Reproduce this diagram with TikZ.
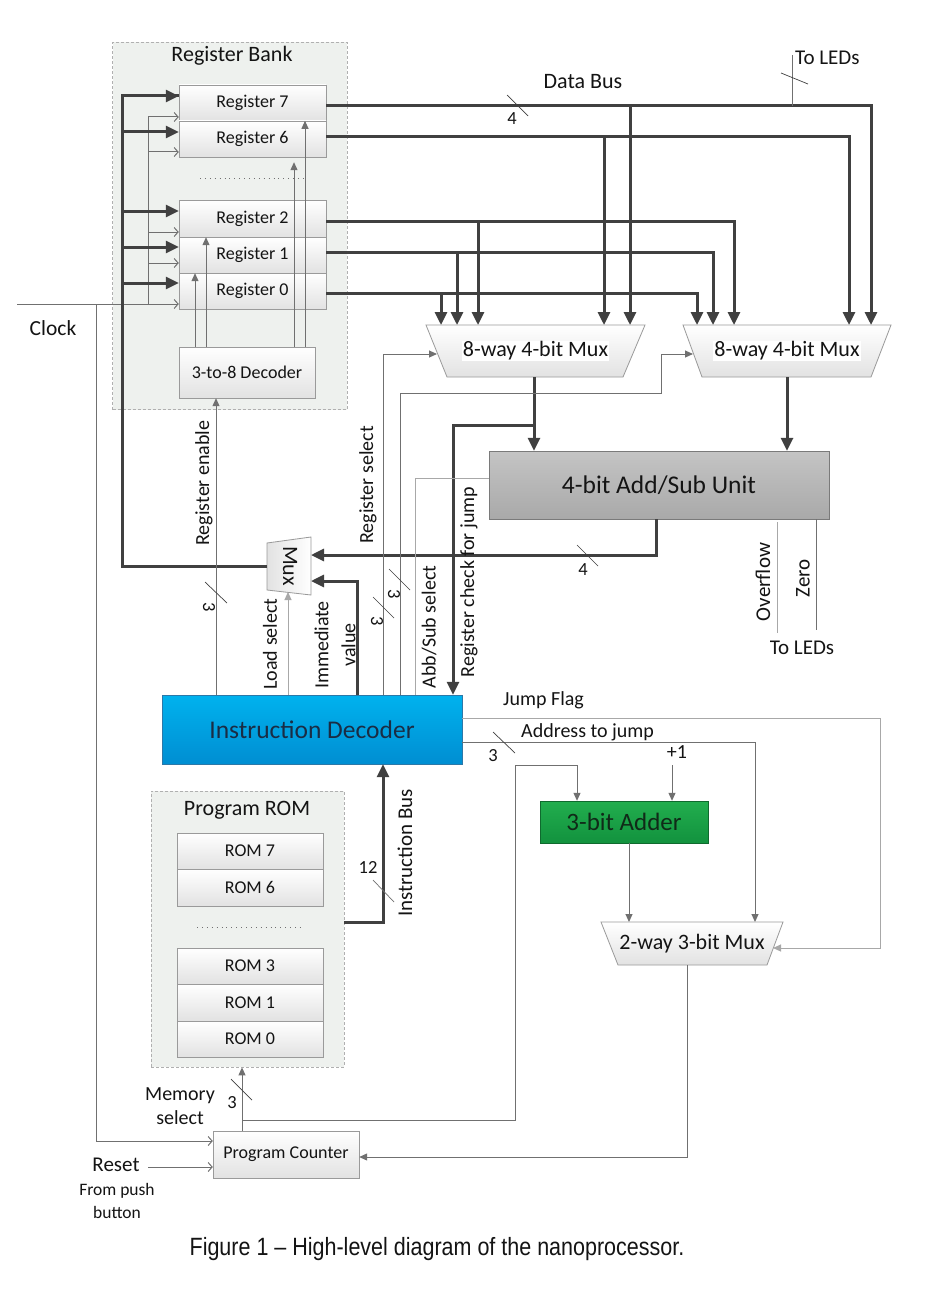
\documentclass[tikz,border=0pt]{standalone}
\usepackage{fontspec}
\setmainfont{Carlito}
\newfontfamily\capfont[FakeStretch=0.86]{Liberation Sans}
\usetikzlibrary{arrows.meta,calc}
\definecolor{txt}{HTML}{141414}
\definecolor{lineD}{HTML}{404040}
\definecolor{lineM}{HTML}{707070}
\definecolor{lineL}{HTML}{A8A8A8}
\definecolor{boxB}{HTML}{9A9A9A}
\definecolor{regG}{HTML}{E2E2E2}
\definecolor{bankF}{HTML}{EEF1EE}
\definecolor{bankB}{HTML}{B0B0B0}
\definecolor{idT}{HTML}{00B2EE}
\definecolor{idB}{HTML}{008ED2}
\definecolor{idE}{HTML}{2C78A8}
\definecolor{idTxt}{HTML}{1A2C44}
\definecolor{aluT}{HTML}{C4C4C4}
\definecolor{aluB}{HTML}{A9A9A9}
\definecolor{aluE}{HTML}{7A7A7A}
\definecolor{addT}{HTML}{22AE4E}
\definecolor{addB}{HTML}{12923E}
\definecolor{addE}{HTML}{0F6A2E}
\definecolor{addTxt}{HTML}{102A18}
\newcommand\fsz[1]{\fontsize{#1}{#1}\selectfont}
\newcommand\fszb[2]{\fontsize{#1}{#2}\selectfont}
\begin{document}
\begin{tikzpicture}[x=1pt,y=-1pt,
  every node/.style={text=txt, inner sep=0pt},
  regbox/.style={draw=boxB, top color=white, bottom color=regG, minimum width=147pt, minimum height=36pt, font=\fsz{18}},
  rombox/.style={regbox, minimum width=146pt},
  bankbox/.style={draw=bankB, dash pattern=on 3pt off 2pt, fill=bankF, line width=0.8pt},
  muxsh/.style={draw=boxB, top color=white, bottom color=regG, line width=0.8pt},
  lbl/.style={font=\fsz{20}},
  vlbl/.style={font=\fsz{20}, rotate=90},
  num/.style={font=\fsz{18.5}},
  thickln/.style={draw=lineD, line width=3pt},
  thickarr/.style={thickln, -{Triangle[length=13pt,width=12pt]}},
  thinln/.style={draw=lineM, line width=1pt},
  thinarr/.style={thinln, -{Triangle[length=8pt,width=7pt]}},
  lightln/.style={draw=lineL, line width=1pt},
  lightarr/.style={lightln, -{Triangle[length=8pt,width=7pt]}},
  openarr/.style={thinln, -{Straight Barb[length=4pt,width=9pt]}},
  slash/.style={draw=lineD, line width=0.7pt},
  dotln/.style={draw=lineM, line width=0.9pt, dash pattern=on 0.9pt off 4pt}
]
\useasboundingbox (0,0) rectangle (938,1292);
\fill[white] (0,0) rectangle (938,1292);

% ---------- Register bank ----------
\node[bankbox, minimum width=234.5pt, minimum height=367pt] (bank) at (229.75,226) {};
\node[font=\fsz{22}] (banktitle) at (232,56) {Register Bank};
\node[regbox] (r7) at (252.5,103) {Register 7};
\node[regbox] (r6) at (252.5,139) {Register 6};
\node[regbox, minimum height=37pt] (r2) at (252.5,218.5) {Register 2};
\node[regbox] (r1) at (252.5,255) {Register 1};
\node[regbox] (r0) at (252.5,291) {Register 0};
\draw[dotln] (200,178) -- (305,178);
\node[regbox, minimum width=136pt, minimum height=51pt] (dec) at (247,372.5) {3-to-8 Decoder};

% decoder to registers
\draw[thinarr] (dec.north -| 195,0) -- (r1.south -| 195,0);
\draw[thinarr] (dec.north -| 206,0) -- (r2.south -| 206,0);
\draw[thinarr, shorten >=5pt] (dec.north -| 294,0) -- (r6.south -| 294,0);
\draw[thinarr] (dec.north -| 305,0) -- (r6.north -| 305,0);

% clock
\coordinate (clkin) at (17,304);
\node[font=\fsz{21.5}] (clk) at (53,328) {Clock};
\draw[thinln] (clkin) -- (148,304) -- (148,117);
\foreach \y/\r in {117/r7,152/r6,232/r2,263/r1,304/r0}
  \draw[openarr] (148,\y) -- (\r.west |- 0,\y);

% ---------- Program ROM ----------
\node[bankbox, minimum width=193pt, minimum height=276pt] (rom) at (247.5,929) {};
\node[font=\fsz{22}] (romtitle) at (247,810) {Program ROM};
\node[rombox] (m7) at (250,851) {ROM 7};
\node[rombox, minimum height=37pt] (m6) at (250,887.5) {ROM 6};
\draw[dotln] (197,927) -- (303,927);
\node[rombox] (m3) at (250,966) {ROM 3};
\node[rombox, minimum height=37pt] (m1) at (250,1002.5) {ROM 1};
\node[rombox] (m0) at (250,1039) {ROM 0};

% ---------- Main blocks ----------
\node[draw=idE, top color=idT, bottom color=idB, minimum width=300pt, minimum height=69pt, font=\fsz{25.5}, text=idTxt] (id) at (312,729.5) {Instruction Decoder};
\node[draw=aluE, top color=aluT, bottom color=aluB, minimum width=340pt, minimum height=68pt, font=\fsz{25.5}] (alu) at (659,485) {4-bit Add/Sub Unit};
\node[draw=addE, top color=addT, bottom color=addB, minimum width=168pt, minimum height=42pt, font=\fsz{25}, text=addTxt] (add) at (624,822) {3-bit Adder};
\node[regbox, minimum width=146pt, minimum height=47pt] (pc) at (286,1154.5) {Program Counter};

% muxes
\path[muxsh] (426,325) -- (645,325) -- (623,377) -- (447,377) -- cycle;
\node[font=\fsz{22}, fill=white, inner sep=1pt] (mux1) at (535.5,351) {8-way 4-bit Mux};
\path[muxsh] (683,325) -- (891,325) -- (871,377) -- (702,377) -- cycle;
\node[font=\fsz{22}, fill=white, inner sep=1pt] (mux2) at (787,351) {8-way 4-bit Mux};
\path[muxsh] (601,922) -- (783,922) -- (767,965) -- (618,965) -- cycle;
\node[font=\fsz{22}] (mux3) at (692,943.5) {2-way 3-bit Mux};
\path[draw=boxB, left color=regG, right color=white, line width=0.8pt] (267,543) -- (311,537) -- (311,595) -- (267,590) -- cycle;
\node[font=\fsz{22}, rotate=-90] (smux) at (290,566) {Mux};
\coordinate (smuxL) at (267,566);
\coordinate (smuxR1) at (311,555);
\coordinate (smuxR2) at (311,581);
\coordinate (smuxB) at (288,592);

% ---------- Data bus ----------
\draw[thickln] (smuxL) -- (122,566) -- (122,96) -- (r7.west |- 0,96);
\draw[thickarr] (150,96) -- (r7.west |- 0,96);
\foreach \y/\r in {132/r6,211/r2,247/r1,283/r0}
  \draw[thickarr] (122,\y) -- (\r.west |- 0,\y);

\draw[thickarr] ($(r7.east)+(0,3)$) -| (871,325);
\draw[thickarr] (630,106) -- (630,325);
\draw[thickarr] ($(r6.east)+(0,-2)$) -| (849,325);
\draw[thickarr] (604,137) -- (604,325);
\draw[thickarr] ($(r2.east)+(0,2.5)$) -| (734,325);
\draw[thickarr] (478,221) -- (478,325);
\draw[thickarr] ($(r1.east)+(0,-3)$) -| (713,325);
\draw[thickarr] (457,252) -- (457,325);
\draw[thickarr] ($(r0.east)+(0,2)$) -| (697,325);
\draw[thickarr] (441,293) -- (441,325);

\node[font=\fsz{22}] (dbus) at (583,82) {Data Bus};
\draw[slash] (507,95) -- (528,116);
\node[num] (n4a) at (512,119) {4};
\draw[thinln] (792,106) -- (792,55);
\draw[slash] (781,73) -- (808,84);
\node[font=\fsz{21}, anchor=west] (leds1) at (795,58) {To LEDs};

% ---------- mux outputs / ALU ----------
\draw[thickarr] (534,377) -- (alu.north -| 534,0);
\draw[thickarr] (787,377) -- (alu.north -| 787,0);
\draw[thickarr] (534,425) -- (453,425) -- (id.north -| 453,0);

\draw[thickarr] (alu.south -| 656,0) -- (656,555) -- (smuxR1);
\draw[slash] (577,545) -- (598,566);
\node[num] (n4b) at (583,570) {4};

\draw[lightln] (777,522) -- (777,633);
\draw[thinln] (alu.south -| 816,0) -- (816,630);
\node[vlbl, font=\fsz{21}] (ovf) at (763,582) {Overflow};
\node[vlbl, font=\fsz{21}] (zero) at (803,578) {Zero};
\node[font=\fsz{21}] (leds2) at (802,648) {To LEDs};

% ---------- Instruction decoder control lines ----------
\draw[thinarr] (id.north -| 216,0) -- (dec.south -| 216,0);
\draw[slash] (205,582) -- (227,603);
\node[num, rotate=-90] (n3a) at (209,607) {3};
\node[vlbl] (regen) at (204,483) {Register enable};

\draw[lightarr] (id.north -| 288,0) -- (smuxB);
\node[vlbl] (ldsel) at (270,644) {Load select};

\draw[thickarr] (id.north -| 357,0) -- (357,581) -- (smuxR2);
\node[vlbl, align=center, font=\fszb{20}{27}] (imm) at (335,645) {Immediate\\value};

\draw[thinarr] (id.north -| 383,0) -- (383,354) -- (437,354);
\draw[slash] (373,597) -- (394,618);
\node[num, rotate=-90] (n3b) at (377,621) {3};
\node[vlbl] (regsel) at (368,485) {Register select};

\draw[thinarr] (id.north -| 400,0) -- (400,393) -- (661,393) -- (661,354) -- (693,354);
\draw[slash] (389,569) -- (410,590);
\node[num, rotate=-90] (n3c) at (394,594) {3};

\draw[lightln] (id.north -| 415,0) -- (415,478) -- (alu.west |- 0,478);
\node[vlbl] (abbsel) at (429,627) {Abb/Sub select};
\node[vlbl] (regchk) at (469,582) {Register check for jump};

% ---------- jump logic ----------
\draw[lightarr] (id.east |- 0,718) -- (880,718) -- (880,948) -- (773,948);
\node[lbl, anchor=west] (jf) at (503,700) {Jump Flag};
\draw[thinarr] (id.east |- 0,742) -- (755,742) -- (755,922);
\draw[slash] (493,732) -- (515,753);
\node[num] (n3d) at (493,756) {3};
\node[lbl, anchor=west] (adj) at (521,732) {Address to jump};
\node[lbl] (plus1) at (677,752) {+1};
\draw[thinarr] (672,765) -- (add.north -| 672,0);
\draw[thinarr] (pc.north -| 242,0) -- (rom.south -| 242,0);
\draw[thinarr] (242,1120) -- (515,1120) -- (515,765) -- (577,765) -- (add.north -| 577,0);
\draw[thinarr] (add.south -| 629,0) -- (629,922);
\draw[thinarr] (687,965) -- (687,1157) -- (pc.east |- 0,1157);

% instruction bus
\draw[thickarr] (rom.east |- 0,922) -- (383,922) -- (id.south -| 383,0);
\node[num] (n12) at (368,867) {12};
\draw[slash, draw=lineM] (373,880) -- (394,902);
\node[vlbl, font=\fsz{21}] (ibus) at (405,853) {Instruction Bus};

% program counter inputs
\draw[openarr] (96,304) -- (96,1141) -- (pc.west |- 0,1141);
\node[font=\fsz{21}] (reset) at (116,1165) {Reset};
\draw[openarr] (148,1167) -- (pc.west |- 0,1167);
\node[align=center, font=\fszb{17.5}{23}] (push) at (117,1201) {From push\\button};
\node[align=center, font=\fszb{20}{24}] (memsel) at (180,1106) {Memory\\select};
\draw[slash] (231,1079) -- (252,1100);
\node[num] (n3e) at (232,1103) {3};

% caption
\node[font=\capfont\fontsize{25}{25}\selectfont] (cap) at (437,1249) {Figure 1 – High-level diagram of the nanoprocessor.};
\end{tikzpicture}
\end{document}
